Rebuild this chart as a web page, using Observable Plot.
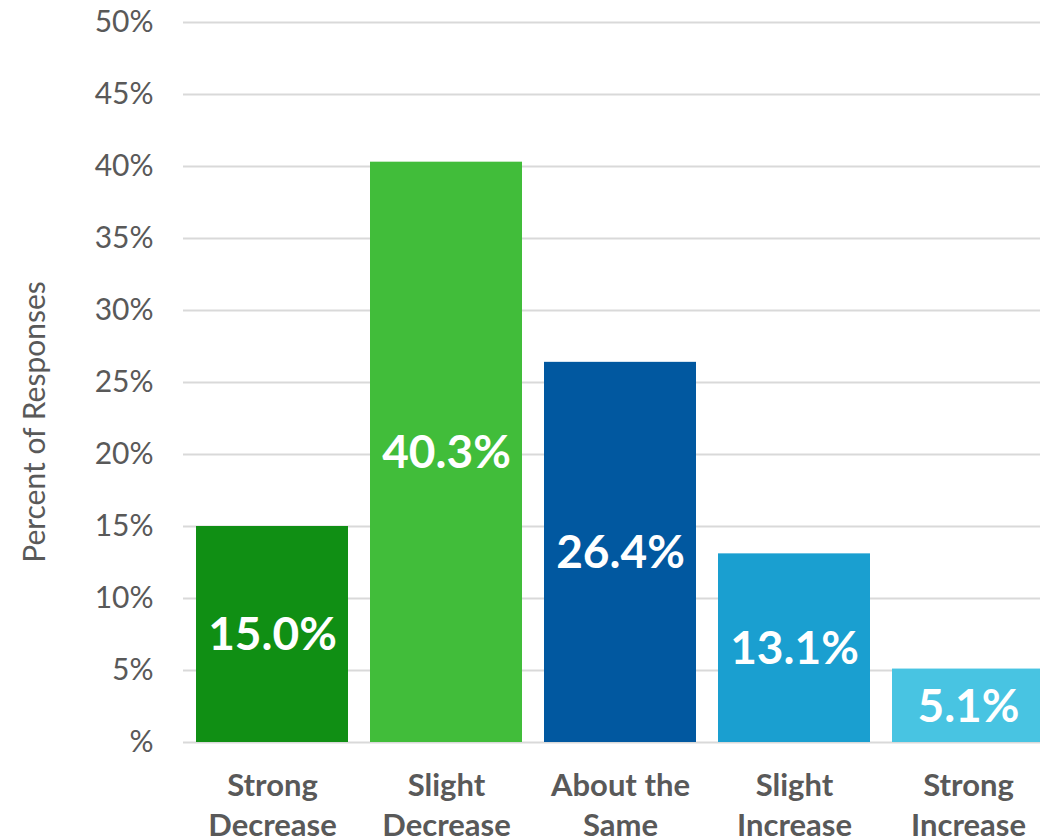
<!DOCTYPE html>
<html>
<head>
<meta charset="utf-8">
<script src="https://cdn.jsdelivr.net/npm/d3@7"></script>
<script src="https://cdn.jsdelivr.net/npm/@observablehq/plot@0.6"></script>
<style>
  html, body { margin: 0; padding: 0; background: #fff; overflow: hidden; }
  #chart { width: 1040px; height: 839px; overflow: hidden; position: relative; }
  #chart svg { display: block; max-width: none !important; width: 1058px !important; height: 839px !important; }
</style>
</head>
<body>
<div id="chart"></div>
<script>
const categories = ["Strong Decrease", "Slight Decrease", "About the Same", "Slight Increase", "Strong Increase"];
const axisLabels = ["Strong\nDecrease", "Slight\nDecrease", "About the\nSame", "Slight\nIncrease", "Strong\nIncrease"];
const values = [15.0, 40.3, 26.4, 13.1, 5.1];
const colors = ["#108f14", "#41bd3a", "#0158a0", "#1a9fd0", "#48c4e2"];
const yTicks = [0, 5, 10, 15, 20, 25, 30, 35, 40, 45, 50];

const data = categories.map((c, i) => ({cat: c, label: axisLabels[i], value: values[i]}));

const chart = Plot.plot({
  width: 1058,
  height: 839,
  marginLeft: 183,
  marginRight: 0,
  marginTop: 22,
  marginBottom: 97,
  style: {fontFamily: "Lato", color: "#595959", background: "#fff"},
  x: {domain: categories, paddingInner: 0.1257, paddingOuter: 0.063, axis: null},
  y: {domain: [0, 50], axis: null},
  color: {domain: categories, range: colors},
  marks: [
    Plot.ruleY(yTicks, {stroke: "#d9d9d9", strokeWidth: 2}),
    Plot.axisY(yTicks, {
      tickSize: 0, tickPadding: 30, fontSize: 30, fill: "#595959",
      tickFormat: d => d === 0 ? "%" : d + "%", label: null
    }),
    Plot.barY(data, {x: "cat", y: "value", fill: "cat"}),
    Plot.text(data, {
      x: "cat", y: d => d.value / 2, text: d => d.value.toFixed(1) + "%",
      fill: "white", fontSize: 46, fontWeight: "bold", dy: 1
    }),
    Plot.text(data, {
      x: "cat", y: 0, text: "label", lineAnchor: "top", dy: 25,
      fontSize: 31, fontWeight: "bold", fill: "#595959", lineHeight: 1.3
    })
  ]
});

// y-axis title
const svg = d3.select(chart);
svg.append("text")
  .attr("transform", "translate(45,422) rotate(-90)")
  .attr("text-anchor", "middle")
  .attr("font-family", "Lato")
  .attr("font-size", 30)
  .attr("fill", "#595959")
  .text("Percent of Responses");

document.getElementById("chart").appendChild(chart);
</script>
</body>
</html>
